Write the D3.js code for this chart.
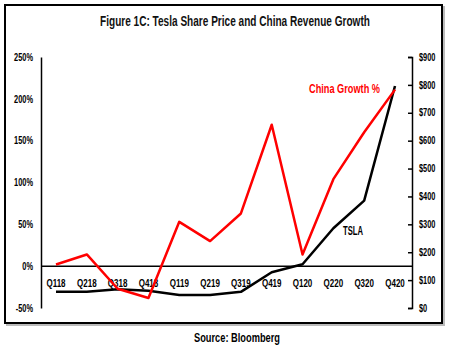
<!DOCTYPE html>
<html>
<head>
<meta charset="utf-8">
<script src="https://cdn.jsdelivr.net/npm/d3@7"></script>
<style>
    body { margin: 0; background: #fff; }
    svg { display: block; }
    text { font-family: "Liberation Sans", Arial, sans-serif; }
</style>
</head>
<body>
<svg class="chart" width="450" height="352"></svg>
<script>
// quarters on the x axis
const quarters = ["Q118", "Q218", "Q318", "Q418", "Q119", "Q219", "Q319", "Q419", "Q120", "Q220", "Q320", "Q420"];
// China revenue growth, percent (left axis)
const chinaGrowth = [2, 14, -27, -38, 53, 30, 63, 169, 14, 104, 160, 211];
// TSLA share price, dollars (right axis)
const tslaPrice = [58, 58, 67, 62, 47, 47, 58, 128, 157, 286, 385, 796];
// tick values
const pctTicks = [-50, 0, 50, 100, 150, 200, 250];
const usdTicks = [0, 100, 200, 300, 400, 500, 600, 700, 800, 900];

const svg = d3.select("svg.chart");

const plotLeft = 41, plotRight = 412, plotTop = 57, plotBottom = 308;

// squeeze text horizontally to mimic the narrow Calibri look
function narrow(sel, factor) {
    sel.each(function () {
        let w = this.getComputedTextLength();
        d3.select(this)
            .attr("textLength", w * factor)
            .attr("lengthAdjust", "spacingAndGlyphs");
    });
}

const x = d3.scalePoint()
    .domain(quarters)
    .range([56, 395]);

const yPct = d3.scaleLinear()
    .domain([-50, 250])
    .range([plotBottom, plotTop]);

const yUsd = d3.scaleLinear()
    .domain([0, 900])
    .range([plotBottom, plotTop]);

// frame
svg.append("rect")
    .attr("x", 7).attr("y", 7)
    .attr("width", 437).attr("height", 318)
    .attr("fill", "none")
    .attr("stroke", "#bbb")
    .attr("stroke-width", 2);

svg.append("rect")
    .attr("x", 5).attr("y", 5)
    .attr("width", 437).attr("height", 318)
    .attr("fill", "#fff")
    .attr("stroke", "black")
    .attr("stroke-width", 2);

// title, squeezed with a transform so its box matches what is drawn
let title = svg.append("text")
    .attr("text-anchor", "middle")
    .attr("font-size", "14px")
    .attr("font-weight", "bold")
    .attr("fill", "#111")
    .text("Figure 1C: Tesla Share Price and China Revenue Growth");
let titleW = title.node().getComputedTextLength();
title.attr("transform", "translate(235,26) scale(" + (270 / titleW) + ",1)");

// left axis
const axisL = svg.append("g")
    .attr("transform", "translate(" + plotLeft + ",0)")
    .call(d3.axisLeft(yPct).tickValues(pctTicks).tickSize(0).tickPadding(8)
        .tickFormat(d => d + "%"));
axisL.select(".domain").attr("stroke", "black").attr("stroke-width", 1.5);
axisL.selectAll("text")
    .attr("font-size", "10px")
    .attr("font-weight", "bold")
    .attr("fill", "black")
    .call(narrow, 0.74);

// right axis, ticks pointing inward
const axisR = svg.append("g")
    .attr("transform", "translate(" + plotRight + ",0)")
    .call(d3.axisRight(yUsd).tickValues(usdTicks).tickSizeInner(-4).tickSizeOuter(-4).tickPadding(7)
        .tickFormat(d => "$" + d));
axisR.select(".domain").attr("stroke", "black").attr("stroke-width", 1.5);
axisR.selectAll("line").attr("stroke", "black").attr("stroke-width", 1.5);
axisR.selectAll("text")
    .attr("font-size", "10px")
    .attr("font-weight", "bold")
    .attr("fill", "black")
    .call(narrow, 0.74);

// zero line with category labels
svg.append("line")
    .attr("x1", plotLeft).attr("x2", plotRight)
    .attr("y1", yPct(0)).attr("y2", yPct(0))
    .attr("stroke", "black")
    .attr("stroke-width", 1.5);

svg.append("g")
    .selectAll("text")
    .data(quarters)
    .join("text")
    .attr("x", d => x(d))
    .attr("y", yPct(0) + 21)
    .attr("text-anchor", "middle")
    .attr("font-size", "10px")
    .attr("font-weight", "bold")
    .text(d => d)
    .call(narrow, 0.8);

const lineGrowth = d3.line()
    .x((d, i) => x(quarters[i]))
    .y(d => yPct(d));

const linePrice = d3.line()
    .x((d, i) => x(quarters[i]))
    .y(d => yUsd(d));

svg.append("path")
    .attr("d", linePrice(tslaPrice))
    .attr("fill", "none")
    .attr("stroke", "black")
    .attr("stroke-width", 2.5)
    .attr("stroke-linejoin", "round");

svg.append("path")
    .attr("d", lineGrowth(chinaGrowth))
    .attr("fill", "none")
    .attr("stroke", "#ff0000")
    .attr("stroke-width", 2.5)
    .attr("stroke-linejoin", "round");

svg.append("text")
    .attr("x", 309).attr("y", 93)
    .attr("font-size", "13px")
    .attr("font-weight", "bold")
    .attr("fill", "#ff0000")
    .attr("textLength", 71)
    .attr("lengthAdjust", "spacingAndGlyphs")
    .text("China Growth %");

svg.append("text")
    .attr("x", 343).attr("y", 235)
    .attr("font-size", "12px")
    .attr("font-weight", "bold")
    .attr("textLength", 20)
    .attr("lengthAdjust", "spacingAndGlyphs")
    .text("TSLA");

svg.append("text")
    .attr("x", 237).attr("y", 342)
    .attr("text-anchor", "middle")
    .attr("font-size", "12.5px")
    .attr("font-weight", "bold")
    .attr("textLength", 86)
    .attr("lengthAdjust", "spacingAndGlyphs")
    .text("Source: Bloomberg");
</script>
</body>
</html>
